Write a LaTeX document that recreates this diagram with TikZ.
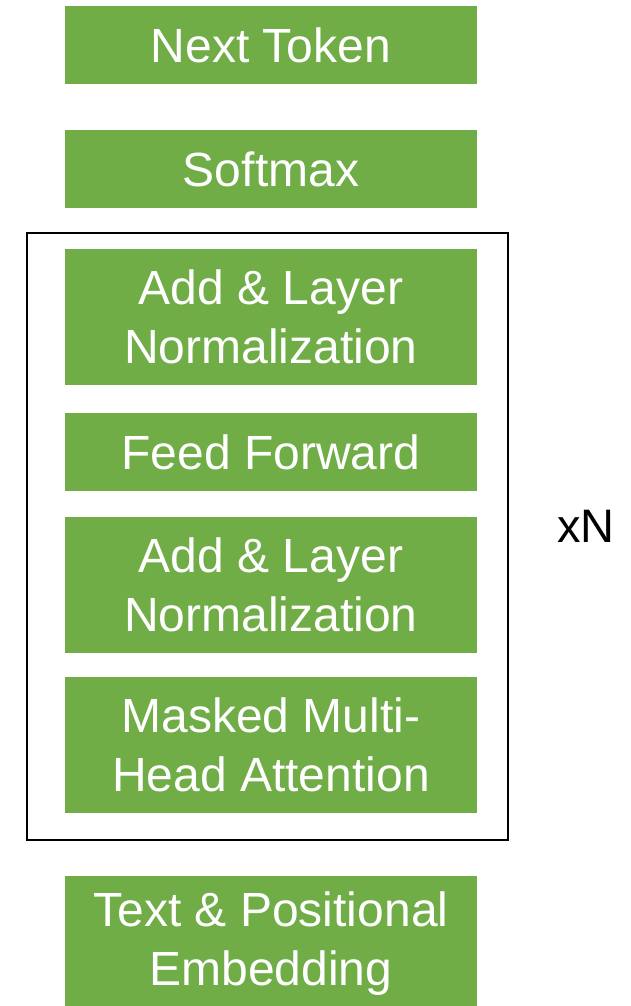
\documentclass[tikz,border=0pt]{standalone}
\usepackage{fontspec}
\setmainfont{Liberation Sans}
\definecolor{blockgreen}{HTML}{70AD47}
\begin{document}
\begin{tikzpicture}[x=1pt,y=-1pt,
  block/.style={fill=blockgreen, draw=none, text=white, minimum width=412pt,
    inner sep=0pt, align=center, font=\fontsize{48}{59}\selectfont},
  short/.style={block, minimum height=78pt},
  tall/.style={block, minimum height=136pt}]
  \useasboundingbox (0,0) rectangle (631,1006);
  \begin{scope}
    \clip (0,0) rectangle (631,1006);
    \node[short] (next)  at (271,45)  {Next Token};
    \node[short] (soft)  at (271,169) {Softmax};
    \node[draw=black, line width=2pt, minimum width=481pt, minimum height=607pt,
      inner sep=0pt] (stack) at (267,536.5) {};
    \node[tall]  (norm2) at (271,317) {Add \& Layer\\Normalization};
    \node[short] (ff)    at (271,452) {Feed Forward};
    \node[tall]  (norm1) at (271,585) {Add \& Layer\\Normalization};
    \node[tall]  (mha)   at (271,745) {Masked Multi-\\Head Attention};
    \node[tall]  (embed) at (271,944) {Text \& Positional\\Embedding};
    \node[font=\fontsize{47}{56}\selectfont, inner sep=0pt] (reps) at (586,526) {xN};
  \end{scope}
\end{tikzpicture}
\end{document}
